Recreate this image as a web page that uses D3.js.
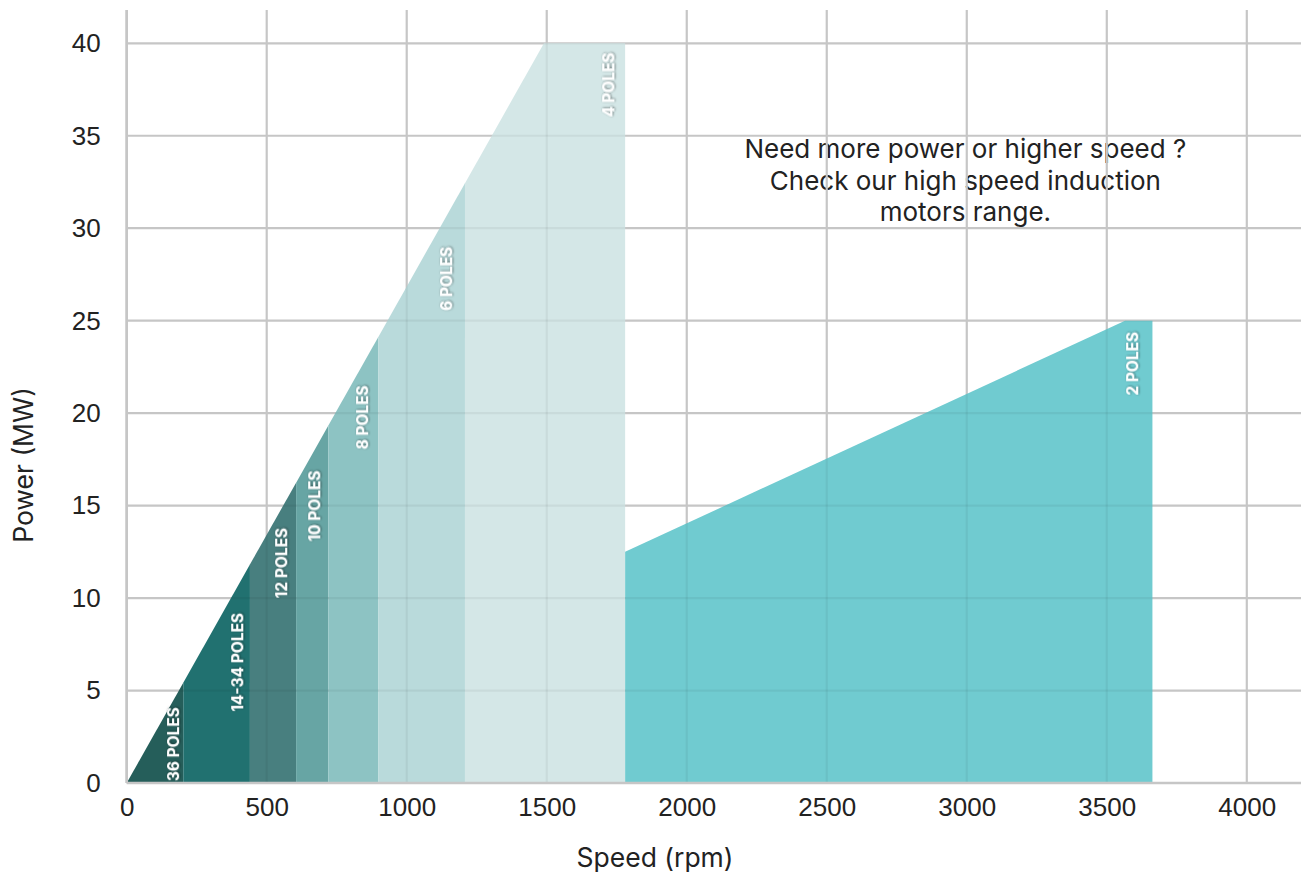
<!DOCTYPE html>
<html>
<head>
<meta charset="utf-8">
<script src="https://cdn.jsdelivr.net/npm/d3@7"></script>
<style>
  html, body { margin: 0; padding: 0; background: #fff; }
  svg { display: block; font-family: Inter, "Noto Sans", sans-serif; }
  .tick text { fill: #222; font-size: 26px; }
  .axis-title { fill: #222; font-size: 26.5px; }
  .note { fill: #222; font-size: 26px; }
  .pole-label { fill: #fff; font-size: 15.5px; font-weight: 700; }
</style>
</head>
<body>
<svg id="chart"></svg>
<script>
// values
const speedTicks = [0, 500, 1000, 1500, 2000, 2500, 3000, 3500, 4000];
const powerTicks = [0, 5, 10, 15, 20, 25, 30, 35, 40];

const poleNames = ['36 POLES', '14-34 POLES', '12 POLES', '10 POLES', '8 POLES', '6 POLES', '4 POLES', '2 POLES'];
const bandStart = [0, 202, 440, 605, 720, 898, 1208, 1780];
const bandEnd = [202, 440, 605, 720, 898, 1208, 1780, 3663];
const bandEnvelope = [0, 0, 0, 0, 0, 0, 0, 1];

// upper limit of power (MW) against speed (rpm)
const lowSpeedEnvelope = [[0, 0], [1490, 40], [1780, 40]];
const twoPoleEnvelope = [[1780, 12.5], [3565, 25], [3663, 25]];
const envelopes = [lowSpeedEnvelope, twoPoleEnvelope];

// where each pole label sits: speed of its baseline, power at its top end
const labelSpeed = [187, 416, 573, 691, 862, 1162, 1741, 3612];
const labelPower = [4.1, 9.2, 13.8, 16.9, 21.5, 29.0, 39.5, 24.4];

const noteLines = ['Need more power or higher speed ?', 'Check our high speed induction', 'motors range.'];

const colours = ['#255e5a', '#217170', '#487f7f', '#67a5a4', '#8dc3c3', '#b9dadb', '#d4e7e7', '#70cbd0'];

const width = 1301;
const height = 874;

const svg = d3.select('#chart').attr('width', width).attr('height', height);

const x = d3.scaleLinear().domain([0, 4190]).range([126.7, 1300]);
const y = d3.scaleLinear().domain([0, 41.8]).range([783, 10]);

function topAt(env, s) {
  for (let i = 1; i < env.length; i++) {
    const [s0, p0] = env[i - 1];
    const [s1, p1] = env[i];
    if (s <= s1) return p0 + (p1 - p0) * (s - s0) / (s1 - s0);
  }
  return env[env.length - 1][1];
}

function bandPoints(i) {
  const env = envelopes[bandEnvelope[i]];
  const a = bandStart[i];
  const b = bandEnd[i];
  const tops = [[a, topAt(env, a)]];
  env.forEach(([s, p]) => { if (s > a && s < b) tops.push([s, p]); });
  tops.push([b, topAt(env, b)]);
  return [[a, 0], ...tops, [b, 0]];
}

// note sits under the grid lines
const note = svg.append('text').attr('class', 'note').attr('text-anchor', 'middle');
noteLines.forEach((line, i) => {
  note.append('tspan').attr('x', x(2995)).attr('y', 158 + i * 31.5).text(line);
});

const grid = svg.append('g').attr('stroke', '#c6c6c6').attr('stroke-width', 2.2);
grid.selectAll('line.v').data(speedTicks).join('line')
  .attr('class', 'v')
  .attr('x1', (d) => x(d)).attr('x2', (d) => x(d))
  .attr('y1', y(41.8)).attr('y2', y(0));
grid.selectAll('line.h').data(powerTicks).join('line')
  .attr('class', 'h')
  .attr('x1', x(0)).attr('x2', width)
  .attr('y1', (d) => y(d)).attr('y2', (d) => y(d));

const line = d3.line().x((d) => x(d[0])).y((d) => y(d[1]));

const bands = svg.append('g');
bands.selectAll('path').data(poleNames).join('path')
  .attr('d', (d, i) => line(bandPoints(i)) + 'Z')
  .attr('fill', (d, i) => colours[i]);

// faint grid showing through the coloured areas
const clip = svg.append('clipPath').attr('id', 'bandClip');
clip.selectAll('path').data(poleNames).join('path')
  .attr('d', (d, i) => line(bandPoints(i)) + 'Z');
const faint = svg.append('g')
  .attr('clip-path', 'url(#bandClip)')
  .attr('stroke', '#000').attr('stroke-opacity', 0.05).attr('stroke-width', 2.2);
faint.selectAll('line.v').data(speedTicks).join('line')
  .attr('x1', (d) => x(d)).attr('x2', (d) => x(d))
  .attr('y1', y(41.8)).attr('y2', y(0));
faint.selectAll('line.h').data(powerTicks).join('line')
  .attr('x1', x(0)).attr('x2', width)
  .attr('y1', (d) => y(d)).attr('y2', (d) => y(d));

// axes lines
svg.append('line').attr('x1', x(0)).attr('x2', x(0)).attr('y1', y(41.8)).attr('y2', y(0))
  .attr('stroke', '#c6c6c6').attr('stroke-width', 2.6);
svg.append('line').attr('x1', x(0)).attr('x2', width).attr('y1', y(0)).attr('y2', y(0))
  .attr('stroke', '#c6c6c6').attr('stroke-width', 2.6);

const xAxis = svg.append('g').attr('transform', `translate(0,${y(0)})`)
  .call(d3.axisBottom(x).tickValues(speedTicks).tickFormat(d3.format('d')).tickSize(0).tickPadding(15));
const yAxis = svg.append('g').attr('transform', `translate(${x(0)},0)`)
  .call(d3.axisLeft(y).tickValues(powerTicks).tickFormat(d3.format('d')).tickSize(0).tickPadding(26));
[xAxis, yAxis].forEach((g) => {
  g.select('.domain').remove();
  g.selectAll('text').attr('font-family', null).attr('font-size', null);
});

svg.append('text').attr('class', 'axis-title').attr('text-anchor', 'middle')
  .attr('x', 655).attr('y', 867).text('Speed (rpm)');
svg.append('text').attr('class', 'axis-title').attr('text-anchor', 'middle')
  .attr('transform', 'translate(33,465) rotate(-90)').text('Power (MW)');

// pole labels with a soft dark shadow
const defs = svg.append('defs');
defs.append('filter').attr('id', 'shadow').attr('x', '-30%').attr('y', '-30%')
  .attr('width', '160%').attr('height', '160%')
  .append('feDropShadow')
  .attr('dx', 0.6).attr('dy', 0.8).attr('stdDeviation', 1.3)
  .attr('flood-color', '#000').attr('flood-opacity', 0.55);

svg.append('g').selectAll('text').data(poleNames).join('text')
  .attr('class', 'pole-label')
  .attr('text-anchor', 'end')
  .attr('filter', 'url(#shadow)')
  .attr('transform', (d, i) => `translate(${x(labelSpeed[i])},${y(labelPower[i])}) rotate(-90)`)
  .text((d) => d);
</script>
</body>
</html>
